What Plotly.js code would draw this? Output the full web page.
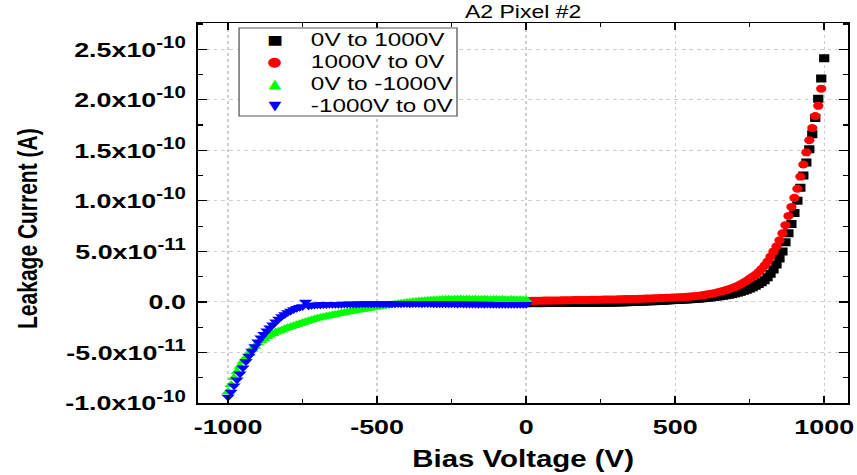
<!DOCTYPE html>
<html>
<head>
<meta charset="utf-8">
<script src="https://cdn.plot.ly/plotly-3.0.1.min.js"></script>
<style>
  html, body { margin: 0; padding: 0; background: #fff; overflow: hidden; }
  #wrap { width: 670px; height: 475px; transform: scaleX(1.2791); transform-origin: 0 0; }
</style>
</head>
<body>
<div id="wrap"><div id="chart"></div></div>
<script>
const voltsUp = [0,10,20,30,40,50,60,70,80,90,100,110,120,130,140,150,160,170,180,190,200,210,220,230,240,250,260,270,280,290,300,310,320,330,340,350,360,370,380,390,400,410,420,430,440,450,460,470,480,490,500,510,520,530,540,550,560,570,580,590,600,610,620,630,640,650,660,670,680,690,700,710,720,730,740,750,760,770,780,790,800,810,820,830,840,850,860,870,880,890,900,910,920,930,940,950,960,970,980,990,1000];
const voltsDown = [990,980,970,960,950,940,930,920,910,900,890,880,870,860,850,840,830,820,810,800,790,780,770,760,750,740,730,720,710,700,690,680,670,660,650,640,630,620,610,600,590,580,570,560,550,540,530,520,510,500,490,480,470,460,450,440,430,420,410,400,390,380,370,360,350,340,330,320,310,300,290,280,270,260,250,240,230,220,210,200,190,180,170,160,150,140,130,120,110,100,90,80,70,60,50,40,30,20,10,0];
const voltsNegOut = [0,-10,-20,-30,-40,-50,-60,-70,-80,-90,-100,-110,-120,-130,-140,-150,-160,-170,-180,-190,-200,-210,-220,-230,-240,-250,-260,-270,-280,-290,-300,-310,-320,-330,-340,-350,-360,-370,-380,-390,-400,-410,-420,-430,-440,-450,-460,-470,-480,-490,-500,-510,-520,-530,-540,-550,-560,-570,-580,-590,-600,-610,-620,-630,-640,-650,-660,-670,-680,-690,-700,-710,-720,-730,-740,-750,-760,-770,-780,-790,-800,-810,-820,-830,-840,-850,-860,-870,-880,-890,-900,-910,-920,-930,-940,-950,-960,-970,-980,-990,-1000];
const voltsNegBack = [-1000,-990,-980,-970,-960,-950,-940,-930,-920,-910,-900,-890,-880,-870,-860,-850,-840,-830,-820,-810,-800,-790,-780,-770,-760,-750,-740,-730,-720,-710,-700,-690,-680,-670,-660,-650,-640,-630,-620,-610,-600,-590,-580,-570,-560,-550,-540,-530,-520,-510,-500,-490,-480,-470,-460,-450,-440,-430,-420,-410,-400,-390,-380,-370,-360,-350,-340,-330,-320,-310,-300,-290,-280,-270,-260,-250,-240,-230,-220,-210,-200,-190,-180,-170,-160,-150,-140,-130,-120,-110,-100,-90,-80,-70,-60,-50,-40,-30,-20,-10,0];

// Leakage current in units of 1e-11 A
const current0to1000 = [-0.12,-0.1,-0.12,-0.1,-0.11,-0.12,-0.1,-0.09,-0.11,-0.1,
  -0.1,-0.09,-0.1,-0.11,-0.1,-0.09,-0.1,-0.1,-0.09,-0.08,
  -0.09,-0.08,-0.08,-0.09,-0.07,-0.08,-0.07,-0.06,-0.07,-0.06,
  -0.05,-0.04,-0.04,-0.03,-0.02,-0.01,0.0,0.01,0.02,0.03,
  0.05,0.06,0.07,0.08,0.1,0.11,0.12,0.14,0.16,0.18,
  0.2,0.21,0.22,0.24,0.25,0.27,0.29,0.31,0.33,0.36,
  0.39,0.42,0.45,0.49,0.53,0.57,0.61,0.66,0.71,0.77,
  0.84,0.92,1.0,1.1,1.2,1.32,1.45,1.6,1.77,1.95,
  2.15,2.45,2.8,3.2,3.7,4.3,5.0,5.9,6.8,7.7,
  8.8,10.0,11.3,12.5,13.8,15.1,16.6,18.2,20.1,22.1,
  24.1];
const current1000to0 = [21.1,19.4,18.4,17.2,16.0,14.8,13.6,12.4,11.2,10.3,
  9.4,8.5,7.6,6.8,6.1,5.5,5.0,4.5,4.0,3.6,
  3.25,2.95,2.7,2.5,2.3,2.1,1.92,1.76,1.6,1.47,
  1.36,1.26,1.17,1.08,1.0,0.93,0.86,0.8,0.75,0.7,
  0.66,0.62,0.59,0.56,0.53,0.51,0.49,0.47,0.46,0.45,
  0.44,0.42,0.41,0.4,0.39,0.37,0.36,0.35,0.34,0.33,
  0.32,0.31,0.3,0.3,0.29,0.28,0.28,0.27,0.26,0.25,
  0.25,0.24,0.24,0.23,0.22,0.22,0.21,0.21,0.2,0.2,
  0.19,0.19,0.18,0.18,0.17,0.17,0.16,0.16,0.15,0.15,
  0.14,0.14,0.13,0.13,0.12,0.12,0.11,0.11,0.1,0.1];
const current0toNeg1000 = [0.18,0.2,0.22,0.2,0.21,0.23,0.2,0.22,0.24,0.22,
  0.23,0.25,0.22,0.24,0.26,0.24,0.25,0.27,0.25,0.26,
  0.27,0.25,0.28,0.26,0.27,0.25,0.26,0.24,0.23,0.22,
  0.2,0.18,0.16,0.14,0.12,0.1,0.07,0.04,0.01,-0.02,
  -0.06,-0.1,-0.14,-0.18,-0.22,-0.27,-0.31,-0.36,-0.4,-0.45,
  -0.5,-0.55,-0.6,-0.65,-0.7,-0.75,-0.8,-0.85,-0.9,-0.95,
  -1.0,-1.06,-1.12,-1.18,-1.24,-1.3,-1.36,-1.42,-1.48,-1.55,
  -1.62,-1.7,-1.78,-1.85,-1.95,-2.05,-2.15,-2.25,-2.35,-2.45,
  -2.55,-2.65,-2.8,-2.9,-3.0,-3.15,-3.3,-3.45,-3.65,-3.85,
  -4.1,-4.4,-4.7,-5.1,-5.5,-5.9,-6.4,-6.9,-7.5,-8.2,
  -8.9];
const currentNeg1000to0 = [-9.4,-8.9,-8.3,-7.7,-7.1,-6.5,-5.9,-5.35,-4.85,-4.4,
  -3.95,-3.55,-3.2,-2.85,-2.55,-2.25,-1.95,-1.7,-1.45,-1.25,
  -1.05,-0.9,-0.75,-0.62,-0.52,-0.45,0.0,-0.38,-0.34,-0.31,
  -0.29,-0.27,-0.26,-0.25,-0.24,-0.23,-0.23,-0.22,-0.22,-0.21,
  -0.21,-0.2,-0.2,-0.2,-0.19,-0.19,-0.19,-0.18,-0.18,-0.18,
  -0.18,-0.17,-0.18,-0.17,-0.17,-0.18,-0.17,-0.16,-0.17,-0.16,
  -0.16,-0.17,-0.16,-0.15,-0.16,-0.17,-0.16,-0.15,-0.16,-0.17,
  -0.17,-0.18,-0.17,-0.18,-0.19,-0.18,-0.19,-0.2,-0.19,-0.2,
  -0.2,-0.21,-0.2,-0.21,-0.22,-0.21,-0.22,-0.21,-0.22,-0.22,
  -0.22,-0.23,-0.22,-0.23,-0.22,-0.23,-0.24,-0.23,-0.24,-0.23,
  -0.22];

const seriesNames = ['0V to 1000V', '1000V to 0V', '0V to -1000V', '-1000V to 0V'];
const seriesColors = ['#000000', '#ff0000', '#00ff00', '#0000ff'];
const legendGlyphs = ['\u25A0', '\u25CF', '\u25B2', '\u25BC'];
const yTickVals = [-1.0e-10, -5.0e-11, 0, 5.0e-11, 1.0e-10, 1.5e-10, 2.0e-10, 2.5e-10];
const yTickMant = ['-1.0', '-5.0', '0.0', '5.0', '1.0', '1.5', '2.0', '2.5'];
const yTickExp = ['-10', '-11', '', '-11', '-10', '-10', '-10', '-10'];
const xTickVals = [-1000, -500, 0, 500, 1000];
const xTickText = ['-1000', '-500', '0', '500', '1000'];

const toAmps = arr => arr.map(v => v * 1e-11);
const FONT = 'Liberation Sans, Arial, sans-serif';
const yTickText = yTickMant.map((m, i) => yTickExp[i]
  ? '<b>' + m + 'x10<sup><span style="font-size:16px">' + yTickExp[i] + '</span></sup></b>'
  : '<b>' + m + '</b>');

const xs = [voltsUp, voltsDown, voltsNegOut, voltsNegBack];
const ys = [current0to1000, current1000to0, current0toNeg1000, currentNeg1000to0];
const symbols = ['square', 'circle', 'triangle-up', 'triangle-down'];
const sizes = [8, 8, 9, 9];
const traces = xs.map((x, i) => ({
  x: x, y: toAmps(ys[i]), name: seriesNames[i], type: 'scatter', mode: 'markers', showlegend: false,
  marker: { symbol: symbols[i], color: seriesColors[i], size: sizes[i] }
}));

// legend box, in paper coordinates of the plot area
const legX0 = 0.0628, legX1 = 0.3982, legY0 = 0.7553, legY1 = 0.9868;
const legRowY = [0.9553, 0.8974, 0.8421, 0.7842];
const annotations = [];
seriesNames.forEach((n, i) => {
  annotations.push({ xref: 'paper', yref: 'paper', x: 0.1181, y: legRowY[i], xanchor: 'center', yanchor: 'middle',
    text: legendGlyphs[i], showarrow: false, font: { family: 'DejaVu Sans', size: 13, color: seriesColors[i] } });
  annotations.push({ xref: 'paper', yref: 'paper', x: 0.1689, y: legRowY[i], xanchor: 'left', yanchor: 'middle',
    text: n, showarrow: false, font: { family: FONT, size: 19, color: '#000' } });
});
annotations.push({ xref: 'paper', yref: 'paper', x: -0.2638, y: 0.4605, xanchor: 'center', yanchor: 'middle',
  text: '<b>Leakage Current (A)</b>', textangle: -90, showarrow: false, font: { family: FONT, size: 21, color: '#000' } });

const axisCommon = {
  ticks: 'inside', ticklen: 7, tickwidth: 1.2, tickcolor: '#000',
  showline: true, linecolor: '#000', linewidth: 1.5, mirror: 'ticks',
  showgrid: true, gridcolor: '#cfcfcf', griddash: 'dot', gridwidth: 1,
  zeroline: false
};

const layout = {
  width: 670, height: 475,
  margin: { l: 155, r: 7, t: 23, b: 72 },
  paper_bgcolor: '#fff', plot_bgcolor: '#fff',
  showlegend: false,
  title: { text: 'A2 Pixel #2', font: { family: FONT, size: 18, color: '#000' },
           x: 0.6104, xref: 'container', xanchor: 'center', y: 0.9747, yref: 'container', yanchor: 'middle' },
  xaxis: Object.assign({}, axisCommon, {
    range: [-1100, 1080], tickmode: 'array', tickvals: xTickVals, ticktext: xTickText.map(t => '<b>' + t + '</b>'),
    tickfont: { family: FONT, size: 21, color: '#000' },
    ticklabelstandoff: 4,
    minor: { tickmode: 'linear', tick0: 0, dtick: 250, ticks: 'inside', ticklen: 4, tickcolor: '#000', showgrid: false },
    title: { text: '<b>Bias Voltage (V)</b>', font: { family: FONT, size: 23, color: '#000' }, standoff: 14 }
  }),
  yaxis: Object.assign({}, axisCommon, {
    range: [-1.0e-10, 2.76e-10], tickmode: 'array', tickvals: yTickVals, ticktext: yTickText,
    tickfont: { family: FONT, size: 21, color: '#000' },
    ticklabelstandoff: 4,
    minor: { tickmode: 'linear', tick0: 0, dtick: 2.5e-11, ticks: 'inside', ticklen: 4, tickcolor: '#000', showgrid: false }
  }),
  shapes: [{ type: 'rect', xref: 'paper', yref: 'paper', x0: legX0, x1: legX1, y0: legY0, y1: legY1,
             line: { color: '#555', width: 1 }, fillcolor: '#fff', layer: 'above' }],
  annotations: annotations
};

Plotly.newPlot('chart', traces, layout, { displayModeBar: false, staticPlot: true });
</script>
</body>
</html>
